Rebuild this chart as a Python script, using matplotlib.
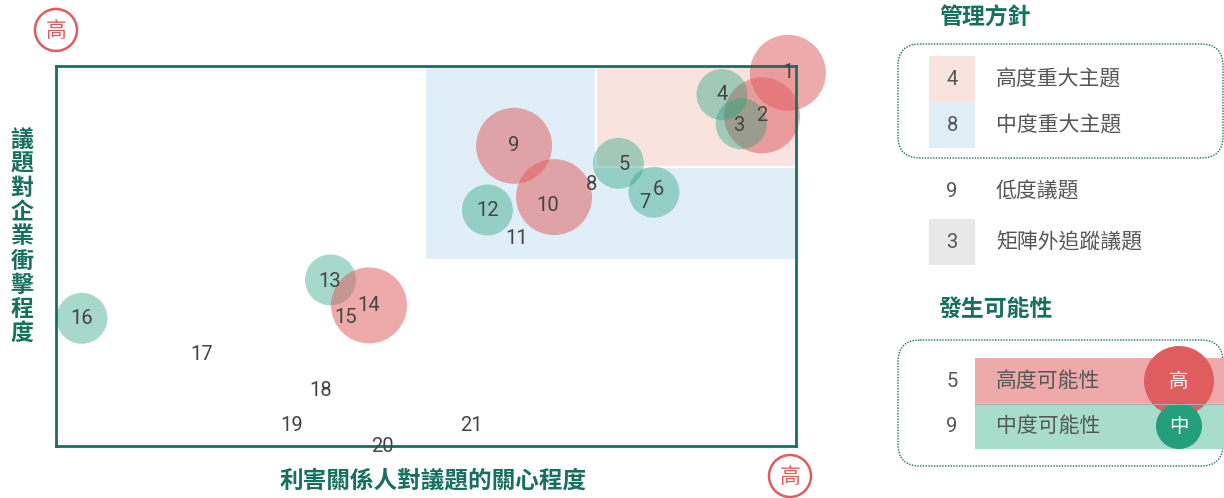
import numpy as np
import matplotlib
matplotlib.use("Agg")
import matplotlib.pyplot as plt
from matplotlib.patches import Rectangle, Circle, FancyBboxPatch

plt.rcParams['font.family'] = ['Roboto', 'Noto Sans CJK TC', 'DejaVu Sans']
CJK = ['Noto Sans CJK TC', 'DejaVu Sans']

# issue positions (x: stakeholder concern 0-100, y: impact 0-100)
issue_ids = ["1", "2", "3", "4", "5", "6", "7", "8", "9", "10", "11",
             "12", "13", "14", "15", "16", "17", "18", "19", "20", "21"]
issue_x = [98.9, 95.4, 92.6, 90.0, 76.0, 80.8, 79.6, 72.4, 61.9, 67.3, 62.3,
           58.3, 37.1, 42.3, 39.2, 3.5, 19.7, 35.8, 31.9, 44.1, 56.1]
issue_y = [98.2, 87.0, 84.8, 92.5, 74.4, 66.8, 64.2, 68.9, 79.0, 65.5, 54.7,
           62.1, 43.7, 37.0, 33.7, 33.6, 24.2, 14.7, 5.5, 0.0, 5.5]
# likelihood: 'H' high, 'M' medium, '' none
likelihood = ["H", "H", "M", "M", "M", "M", "", "", "H", "H", "",
              "M", "M", "H", "", "M", "", "", "", "", ""]
label_dx = {"3": -0.4, "5": 0.8, "6": 0.6, "10": -0.9, "13": -0.1}
label_dy = {"3": -0.5, "5": -0.3, "6": 0.6, "10": -2.1, "13": -0.4}

# management zones (x0, y0) up to 100
zone_mid = (50.0, 49.2)
zone_high = (73.0, 73.4)

legend_mgmt = [("4", "高度重大主題", "#f8e3df"), ("8", "中度重大主題", "#e0eff7"),
               ("9", "低度議題", None), ("3", "矩陣外追蹤議題", "#e8e8e8")]
legend_like = [("5", "高度可能性", "#eeaaab", "#df5c5f", "高", 35),
               ("9", "中度可能性", "#a8dccb", "#23a07b", "中", 23)]

GREEN = "#17705f"
RED = "#df5c5f"
BUB_GREEN = "#23a07b"
TXT = "#444444"

fig = plt.figure(figsize=(12.24, 4.98), dpi=100)
ax = fig.add_axes([56 / 1224, 52 / 498, 740 / 1224, 380 / 498])
ax.set_xlim(0, 100)
ax.set_ylim(0, 100)
ax.set_xticks([])
ax.set_yticks([])
for s in ax.spines.values():
    s.set_color(GREEN)
    s.set_linewidth(2)

ax.add_patch(Rectangle(zone_mid, 100 - zone_mid[0], 100 - zone_mid[1],
                       facecolor="#e0eff7", edgecolor="none", zorder=0))
ax.add_patch(Rectangle(zone_high, 100 - zone_high[0], 100 - zone_high[1],
                       facecolor="#f8e3df", edgecolor="white", lw=1.5, zorder=0.5))

px2pt = 0.72
for i, lv in enumerate(likelihood):
    if lv == "H":
        ax.scatter(issue_x[i], issue_y[i], s=(76 * px2pt) ** 2, color=RED,
                   alpha=0.52, edgecolors="none", zorder=2, clip_on=False)
    elif lv == "M":
        ax.scatter(issue_x[i], issue_y[i], s=(51 * px2pt) ** 2, color=BUB_GREEN,
                   alpha=0.4, edgecolors="none", zorder=2, clip_on=False)

for i, lab in enumerate(issue_ids):
    ax.text(issue_x[i] + label_dx.get(lab, 0), issue_y[i] + label_dy.get(lab, 0), lab,
            fontsize=14.5, color=TXT, ha="center", va="center", zorder=5, clip_on=False)

# overlay in pixel coordinates
ov = fig.add_axes([0, 0, 1, 1], zorder=3)
ov.set_xlim(0, 1224)
ov.set_ylim(498, 0)
ov.axis("off")

for cx, cy in [(56, 30), (790, 476)]:
    ov.add_patch(Circle((cx, cy), 21, facecolor="white", edgecolor=RED, lw=1.8))
    ov.text(cx, cy + 1, "高", family=CJK, fontsize=15, color=RED, ha="center", va="center")

ylab = "議題對企業衝擊程度"
for k, ch in enumerate(ylab):
    ov.text(22, 140 + k * 24.2, ch, family=CJK, fontsize=16.5, fontweight="bold",
            color=GREEN, ha="center", va="center")
ov.text(433, 480, "利害關係人對議題的關心程度", family=CJK, fontsize=17,
        fontweight="bold", color=GREEN, ha="center", va="center")

# management legend
ov.text(939, 18, "管理方針", family=CJK, fontsize=16.5, fontweight="bold",
        color=GREEN, ha="left", va="center")
ov.add_patch(FancyBboxPatch((898, 44), 325, 114, boxstyle="round,pad=0,rounding_size=22",
                            facecolor="none", edgecolor=GREEN, lw=1, ls=(0, (1, 1))))
rows_y = [79, 125, 191, 242]
for (num, txt, col), ry in zip(legend_mgmt, rows_y):
    if col is not None:
        ov.add_patch(Rectangle((929, ry - 23), 46, 46, facecolor=col, edgecolor="none"))
    ov.text(952, ry, num, fontsize=14.5, color="#555555", ha="center", va="center")
    ov.text(996, ry, txt, family=CJK, fontsize=15, color="#555555", ha="left", va="center")

# likelihood legend
ov.text(939, 309, "發生可能性", family=CJK, fontsize=16.5, fontweight="bold",
        color=GREEN, ha="left", va="center")
ov.add_patch(FancyBboxPatch((898, 340), 325, 126, boxstyle="round,pad=0,rounding_size=22",
                            facecolor="none", edgecolor=GREEN, lw=1, ls=(0, (1, 1))))
like_y = [381, 426]
for (num, txt, band, ccol, ch, r), ry in zip(legend_like, like_y):
    ov.add_patch(Rectangle((975, ry - 23), 250, 45.5, facecolor=band, edgecolor="none"))
    ov.text(952, ry, num, fontsize=14.5, color="#555555", ha="center", va="center")
    ov.text(996, ry, txt, family=CJK, fontsize=15, color="#555555", ha="left", va="center")
ov.plot([975, 1224], [403.5, 403.5], color="#9fb5ad", lw=0.8)
for (num, txt, band, ccol, ch, r), ry in zip(legend_like, like_y):
    ov.add_patch(Circle((1179, ry), r, facecolor=ccol, edgecolor="none"))
    ov.text(1179, ry, ch, family=CJK, fontsize=14, color="white", ha="center", va="center")

fig.savefig("out.png", dpi=100)
